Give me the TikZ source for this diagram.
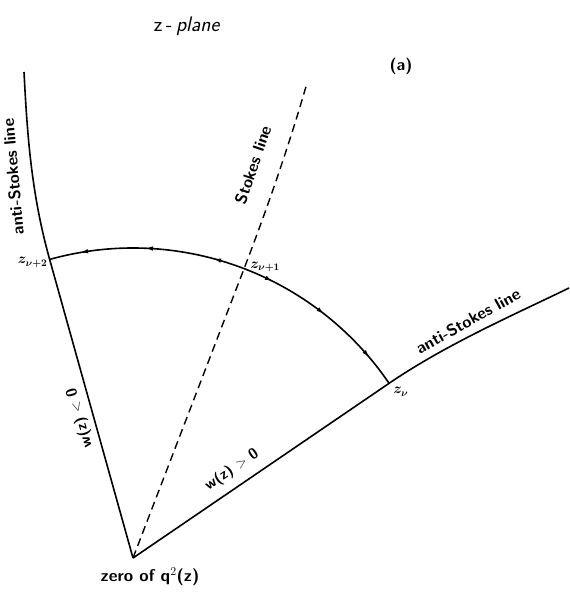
\documentclass[tikz,border=0pt]{standalone}
\usetikzlibrary{decorations.markings,arrows.meta}
\begin{document}
\begin{tikzpicture}[x=1pt,y=1pt,
  curve/.style={line width=1.6pt},
  stokes/.style={line width=1.4pt, dash pattern=on 8pt off 5pt},
  lbl/.style={font=\sffamily\bfseries\fontsize{16.5}{16.5}\selectfont, inner sep=1pt},
  pt/.style={font=\boldmath\fontsize{14}{14}\selectfont, inner sep=1pt}]
\useasboundingbox (0,0) rectangle (569,593);
\coordinate (O) at (133,35);
\coordinate (zn) at ([shift={(34.3:310)}]O);
\coordinate (zn1) at ([shift={(69:310)}]O);
\coordinate (zn2) at ([shift={(105.6:310)}]O);
\coordinate (Ltop) at (24,521);
\coordinate (Rend) at (569,305);
\coordinate (Stop) at (307,510);
% anti-Stokes lines
\draw[curve] (O) -- (zn2) .. controls +(105.6:70) and +(-87:60) .. (Ltop);
\draw[curve] (O) -- (zn) .. controls +(34.3:70) and +(206:60) .. (Rend);
% Stokes line
\draw[stokes] (O) -- (zn1) .. controls +(69:70) and +(-106:60) .. (Stop);
% arc with arrows
\draw[curve, decoration={markings,
   mark=at position 0.084 with {\arrowreversed{Latex[length=8pt,width=4.5pt]}},
   mark=at position 0.247 with {\arrowreversed{Latex[length=8pt,width=4.5pt]}},
   mark=at position 0.405 with {\arrowreversed{Latex[length=8pt,width=4.5pt]}},
   mark=at position 0.571 with {\arrow{Latex[length=8pt,width=4.5pt]}},
   mark=at position 0.750 with {\arrow{Latex[length=8pt,width=4.5pt]}},
   mark=at position 0.919 with {\arrow{Latex[length=8pt,width=4.5pt]}}},
   postaction={decorate}]
   (zn) arc[start angle=34.3, end angle=105.6, radius=310];
% labels
\node[font=\sffamily\fontsize{21}{21}\selectfont] (title) at (187,567) {z\,-\,\textit{plane}};
\node[lbl] (tag) at (401,527) {(a)};
\node[pt, anchor=east] (lzn2) at ([shift={(-1,-3)}]zn2) {$z_{\nu+2}$};
\node[pt, anchor=base west] (lzn1) at ([shift={(5,0)}]zn1) {$z_{\nu+1}$};
\node[pt, anchor=north west] (lzn) at ([shift={(3,-3)}]zn) {$z_{\nu}$};
\node[lbl, rotate=95] (alS) at (13,416) {anti-Stokes line};
\node[lbl, rotate=29] (arS) at (468,272) {anti-Stokes line};
\node[lbl, rotate=71] (sS) at (253,428) {Stokes line};
\node[lbl, font=\sffamily\bfseries\fontsize{15}{15}\selectfont, rotate=105.6] (wneg) at (80,175) {w(z) $<$ 0};
\node[lbl, font=\sffamily\bfseries\fontsize{15}{15}\selectfont, rotate=34] (wpos) at (232,123) {w(z) $>$ 0};
\node[font=\sffamily\bfseries\fontsize{17}{17}\selectfont] (zero) at (150,16) {zero of q$^{2}$(z)};
\end{tikzpicture}
\end{document}
